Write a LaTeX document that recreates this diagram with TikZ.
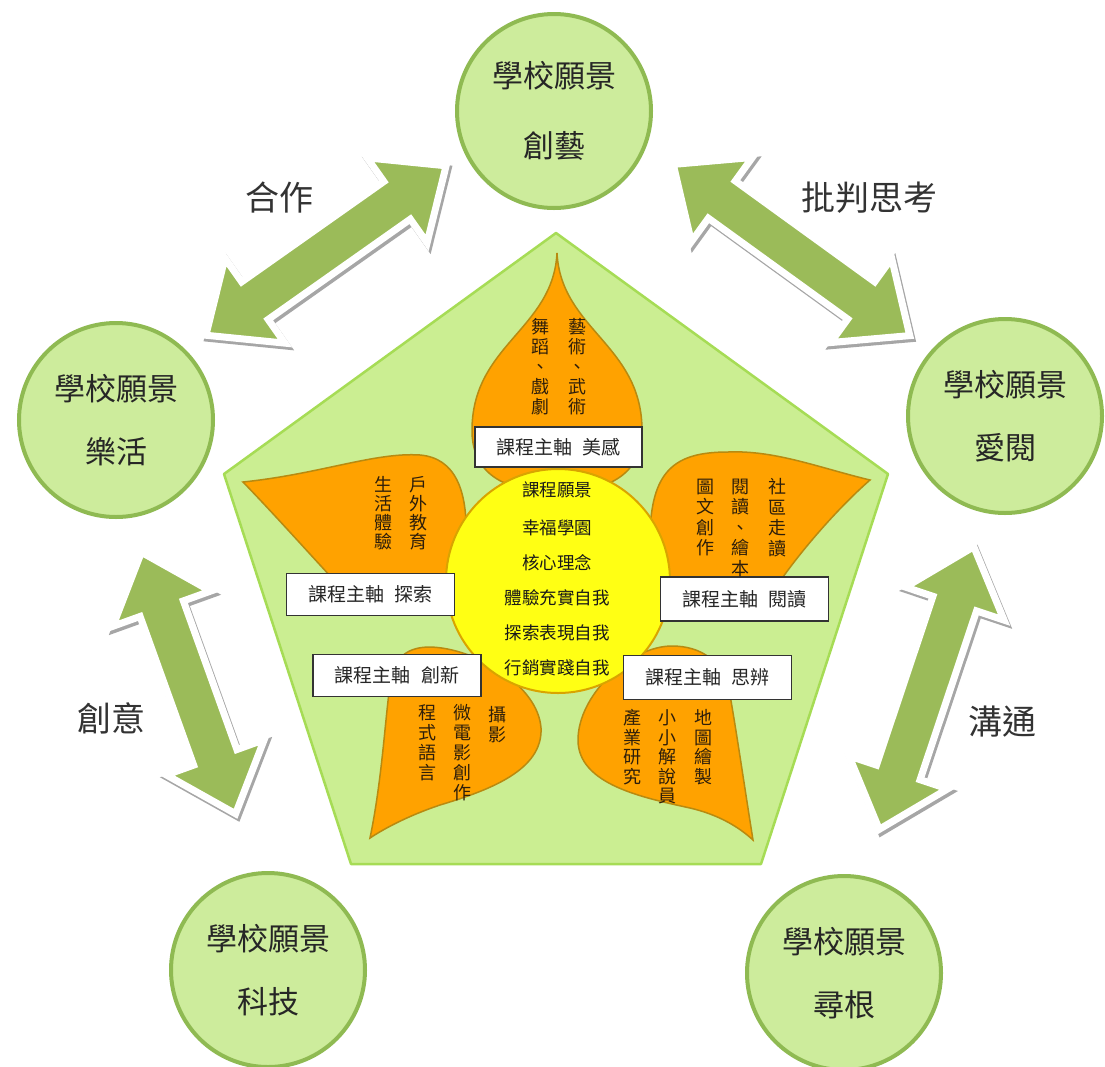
\documentclass[tikz,border=0pt]{standalone}
\usepackage{fontspec}
\setmainfont{Noto Sans CJK TC}
\definecolor{circfill}{HTML}{CDEC9C}
\definecolor{circline}{HTML}{8FBA52}
\definecolor{pentfill}{HTML}{CBEE92}
\definecolor{pentline}{HTML}{A6DC55}
\definecolor{petalfill}{HTML}{FFA200}
\definecolor{petalline}{HTML}{B88A10}
\definecolor{corefill}{HTML}{FFFF14}
\definecolor{coreline}{HTML}{D9A400}
\definecolor{arrowgreen}{HTML}{9BBB59}
\definecolor{petalink}{HTML}{2E1E0A}
\newcommand\greenarrow[4]{%
  \begin{scope}[shift={(#1+2,#2+3)},rotate=#3]
    \path[arrowshade] (#4,0) -- (#4-60,52) -- (#4-60,23) -- (-#4+60,23) -- (-#4+60,52) -- (-#4,0)
      -- (-#4+60,-52) -- (-#4+60,-23) -- (#4-60,-23) -- (#4-60,-52) -- cycle;
  \end{scope}
  \begin{scope}[shift={(#1,#2)},rotate=#3]
    \path[arrowbody] (#4,0) -- (#4-60,52) -- (#4-60,23) -- (-#4+60,23) -- (-#4+60,52) -- (-#4,0)
      -- (-#4+60,-52) -- (-#4+60,-23) -- (#4-60,-23) -- (#4-60,-52) -- cycle;
  \end{scope}}
\begin{document}
\begin{tikzpicture}[x=1pt,y=-1pt,
  vision/.style={circle, draw=circline, fill=circfill, line width=4pt, minimum size=194pt,
    inner sep=0pt, align=center, text=black!85, font=\fontsize{31}{63}\selectfont},
  valuelabel/.style={text=black!80, inner sep=0pt, font=\fontsize{34}{40}\selectfont},
  petal/.style={fill=petalfill, draw=petalline, line width=1.5pt},
  petaltext/.style={anchor=north, inner sep=0pt, align=center, text=petalink,
    font=\fontsize{18}{20}\selectfont},
  axisbox/.style={draw=black!80, fill=white, line width=1.3pt, minimum width=168pt,
    minimum height=42pt, inner sep=0pt, text=black!85, font=\fontsize{19}{22}\selectfont},
  coretext/.style={inner sep=0pt, text=black!90, font=\fontsize{17.5}{20}\selectfont},
  arrowbody/.style={fill=arrowgreen, draw=white, line width=7pt, line join=miter},
  arrowshade/.style={fill=black!35, draw=black!35, line width=7pt, line join=miter}]
\useasboundingbox[fill=white] (0,0) rectangle (1105,1066);

% double arrows between the vision circles
\greenarrow{326}{250.5}{35.2}{147}
\greenarrow{791.5}{250}{-35.9}{146}
\greenarrow{188.5}{683}{-70.2}{139}
\greenarrow{926.5}{688}{71.5}{149}

\node[valuelabel] (l1) at (279,198) {合作};
\node[valuelabel] (l2) at (869,198) {批判思考};
\node[valuelabel] (l3) at (111,718) {創意};
\node[valuelabel] (l4) at (1002,722) {溝通};

% vision circles
\node[vision, font=\fontsize{31}{70}\selectfont] (v1) at (554,111) {學校願景\\創藝};
\node[vision] (v2) at (116,420) {學校願景\\樂活};
\node[vision] (v3) at (1005,416) {學校願景\\愛閱};
\node[vision] (v4) at (268,970) {學校願景\\科技};
\node[vision] (v5) at (844,973) {學校願景\\尋根};

% pentagon
\path[draw=pentline, fill=pentfill, line width=2.5pt, line join=round]
  (556,233) -- (888,474) -- (761,864) -- (351,864) -- (224,474) -- cycle;

% petals
\path[petal] (557,253) .. controls (561,330) and (643,345) .. (642,432)
  .. controls (641,480) and (600,492) .. (557,492)
  .. controls (514,492) and (473,480) .. (472,432)
  .. controls (471,345) and (553,330) .. (557,253) -- cycle;
\path[petal] (243,482) .. controls (320,474) and (375,452) .. (420,455)
  .. controls (455,458) and (468,490) .. (466,540) -- (470,600) -- (345,592)
  .. controls (315,560) and (275,515) .. (243,482) -- cycle;
\path[petal] (870,480) .. controls (820,468) and (775,450) .. (728,452)
  .. controls (675,452) and (650,470) .. (650,540) -- (652,600) -- (768,600)
  .. controls (785,570) and (830,515) .. (870,480) -- cycle;
\path[petal] (370,838) .. controls (382,780) and (385,720) .. (390,685)
  .. controls (393,655) and (410,647) .. (430,647)
  .. controls (475,648) and (538,685) .. (541,728)
  .. controls (543,770) and (490,790) .. (440,805)
  .. controls (410,815) and (385,828) .. (370,838) -- cycle;
\path[petal] (753,840) .. controls (745,790) and (737,735) .. (730,695)
  .. controls (724,660) and (700,646) .. (672,646)
  .. controls (630,646) and (578,695) .. (578,740)
  .. controls (578,785) and (645,798) .. (690,808)
  .. controls (720,815) and (740,828) .. (753,840) -- cycle;

% core
\node[circle, draw=coreline, fill=corefill, line width=2pt, minimum size=224pt, inner sep=0pt] (core) at (558,581) {};
\node[coretext] (c1) at (557,490) {課程願景};
\node[coretext] (c2) at (557,528) {幸福學園};
\node[coretext] (c3) at (557,563) {核心理念};
\node[coretext] (c4) at (557,598) {體驗充實自我};
\node[coretext] (c5) at (557,633) {探索表現自我};
\node[coretext] (c6) at (557,668) {行銷實踐自我};

% axis boxes
\node[axisbox, minimum width=167pt, minimum height=40pt] (b1) at (558.5,447) {課程主軸\hspace{0.55em}美感};
\node[axisbox] (b2) at (370.5,594.5) {課程主軸\hspace{0.55em}探索};
\node[axisbox, minimum height=44pt] (b3) at (744.5,599) {課程主軸\hspace{0.55em}閱讀};
\node[axisbox] (b4) at (397,675.5) {課程主軸\hspace{0.55em}創新};
\node[axisbox, minimum height=44pt] (b5) at (707.5,677.5) {課程主軸\hspace{0.55em}思辨};

% petal texts (vertical)
\node[petaltext] (t1a) at (577,318.5) {藝\\術\\、\\武\\術};
\node[petaltext] (t1b) at (540,318.5) {舞\\蹈\\、\\戲\\劇};
\node[petaltext, font=\fontsize{18}{19}\selectfont] (t2a) at (418,476.5) {戶\\外\\教\\育};
\node[petaltext, font=\fontsize{18}{19}\selectfont] (t2b) at (383,476.5) {生\\活\\體\\驗};
\node[petaltext, font=\fontsize{18}{20.5}\selectfont] (t3a) at (777,478.5) {社\\區\\走\\讀};
\node[petaltext, font=\fontsize{18}{20.5}\selectfont] (t3b) at (740,478.5) {閱\\讀\\、\\繪\\本};
\node[petaltext, font=\fontsize{18}{20.5}\selectfont] (t3c) at (705,478.5) {圖\\文\\創\\作};
\node[petaltext] (t4a) at (497,706) {攝\\影};
\node[petaltext] (t4b) at (462,704.5) {微\\電\\影\\創\\作};
\node[petaltext] (t4c) at (427,704.5) {程\\式\\語\\言};
\node[petaltext, font=\fontsize{18}{19.5}\selectfont] (t5a) at (703,709.5) {地\\圖\\繪\\製};
\node[petaltext, font=\fontsize{18}{19.5}\selectfont] (t5b) at (667,709.5) {小\\小\\解\\說\\員};
\node[petaltext, font=\fontsize{18}{19.5}\selectfont] (t5c) at (632,709.5) {產\\業\\研\\究};
\end{tikzpicture}
\end{document}
